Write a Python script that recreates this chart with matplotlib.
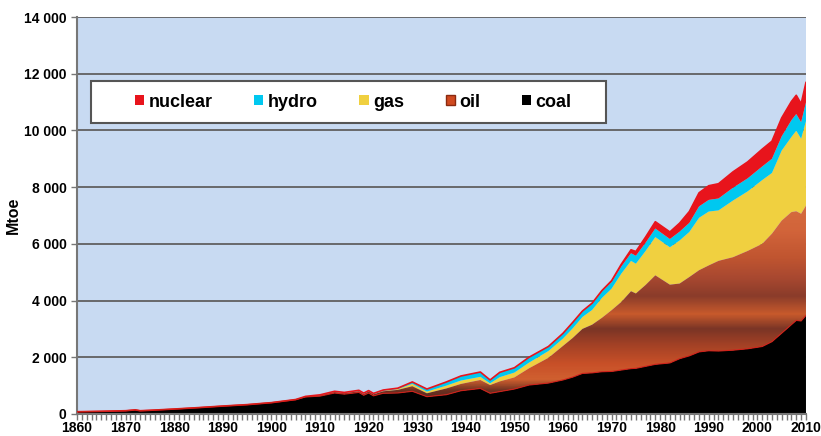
import numpy as np
import matplotlib.pyplot as plt
from matplotlib.colors import LinearSegmentedColormap
from matplotlib.patches import Rectangle, Patch

# world primary energy by source, Mtoe
years = [1860, 1865, 1870, 1872, 1873, 1875, 1880, 1885, 1890, 1895,
         1900, 1905, 1907, 1910, 1913, 1915, 1918, 1919, 1920, 1921,
         1923, 1926, 1929, 1932, 1936, 1939, 1943, 1945, 1947, 1950,
         1953, 1957, 1960, 1962, 1964, 1966, 1968, 1970, 1972, 1974,
         1975, 1977, 1979, 1982, 1984, 1986, 1988, 1990, 1992, 1995,
         1998, 2001, 2003, 2005, 2007, 2008, 2009, 2010]

coal = [80, 95, 115, 145, 115, 130, 175, 225, 280, 330,
        400, 505, 600, 630, 740, 700, 760, 660, 740, 640,
        730, 740, 800, 610, 680, 820, 900, 730, 790, 880,
        1020, 1090, 1200, 1300, 1430, 1450, 1490, 1500, 1550, 1600,
        1610, 1680, 1750, 1800, 1950, 2050, 2190, 2230, 2220, 2250,
        2300, 2380, 2550, 2850, 3150, 3300, 3280, 3480]

oil = [0, 0, 0, 0, 0, 0, 0, 0, 0, 0,
       0, 5, 10, 20, 30, 30, 40, 40, 50, 50,
       70, 110, 180, 120, 220, 240, 300, 290, 360, 410,
       590, 890, 1200, 1380, 1570, 1700, 1900, 2160, 2400, 2730,
       2640, 2870, 3140, 2760, 2650, 2780, 2880, 3010, 3180, 3280,
       3450, 3620, 3810, 3970, 3970, 3850, 3780, 3870]

gas = [0, 0, 0, 0, 0, 0, 0, 0, 0, 0,
       0, 0, 5, 10, 15, 15, 15, 15, 15, 15,
       20, 30, 80, 60, 100, 120, 110, 60, 150, 170,
       200, 240, 260, 340, 420, 520, 700, 760, 1000, 1070,
       1050, 1200, 1350, 1320, 1520, 1590, 1850, 1900, 1780, 2000,
       2100, 2250, 2140, 2470, 2650, 2840, 2650, 2980]

hydro = [0, 0, 0, 0, 0, 0, 0, 0, 0, 0,
         0, 0, 5, 15, 15, 15, 20, 20, 20, 20,
         25, 30, 70, 90, 130, 160, 170, 120, 170, 170,
         190, 160, 180, 200, 200, 220, 230, 230, 250, 270,
         280, 290, 300, 290, 310, 320, 400, 410, 420, 450,
         460, 480, 500, 500, 590, 590, 580, 660]

nuclear = [0, 0, 0, 0, 0, 0, 0, 0, 0, 0,
           0, 0, 0, 0, 0, 0, 0, 0, 0, 0,
           0, 0, 0, 0, 0, 0, 0, 0, 0, 0,
           0, 0, 5, 10, 10, 20, 30, 50, 80, 120,
           150, 200, 240, 250, 300, 400, 480, 500, 520, 560,
           580, 610, 620, 650, 660, 660, 650, 700]

labels = ['nuclear', 'hydro', 'gas', 'oil', 'coal']

c_nuclear = '#e8141c'
c_hydro = '#00c8f0'
c_gas = '#f0d040'
c_coal = '#000000'

plt.rcParams['font.family'] = ['Liberation Sans', 'DejaVu Sans']
plt.rcParams['font.weight'] = 'bold'

fig = plt.figure(figsize=(8.21, 4.36), dpi=100)
ax = fig.add_axes([0.0938, 0.0505, 0.8879, 0.9105])
ax.set_facecolor('#c8daf2')

polys = ax.stackplot(years, coal, oil, gas, hydro, nuclear,
                     colors=[c_coal, '#c85028', c_gas, c_hydro, c_nuclear],
                     linewidth=0, zorder=2)

# sunset-like gradient for oil, clipped to its band
oil_cmap = LinearSegmentedColormap.from_list('oil', [
    (0.0, '#3a2020'), (0.10, '#6a3020'), (0.15, '#d06030'),
    (0.22, '#c85028'), (0.31, '#a04025'), (0.375, '#7a3526'),
    (0.44, '#c85a2c'), (0.52, '#8a3c2a'), (0.60, '#a84830'),
    (0.69, '#c05530'), (0.81, '#d2643a'), (1.0, '#d87040')])
grad = np.linspace(0, 1, 400).reshape(-1, 1)
polys[1].set_facecolor('none')
im = ax.imshow(grad, extent=[1860, 2010, 0, 8000], origin='lower',
               aspect='auto', cmap=oil_cmap, zorder=2.1)
im.set_clip_path(polys[1].get_paths()[0], transform=ax.transData)

total = np.array(coal) + np.array(oil) + np.array(gas) + np.array(hydro) + np.array(nuclear)
ax.plot(years, total, color=c_nuclear, lw=1.2, zorder=3)
ax.plot(years, coal, color='#d02018', lw=0.8, zorder=3)

ax.set_xlim(1860, 2010)
ax.set_ylim(0, 14000)

ax.set_xticks(range(1860, 2011, 10))
ax.set_xticks(range(1860, 2011, 1), minor=True)
ax.set_yticks(range(0, 14001, 2000))
ax.set_yticklabels([f'{v:,}'.replace(',', ' ') for v in range(0, 14001, 2000)])
ax.tick_params(axis='both', which='both', labelsize=10, color='#777777',
               length=4, width=1)
ax.tick_params(axis='x', pad=1)

ax.grid(axis='y', color='#606060', lw=1.3)
ax.set_axisbelow(True)

for s in ['top', 'right']:
    ax.spines[s].set_visible(False)
for s in ['left', 'bottom']:
    ax.spines[s].set_color('#777777')
    ax.spines[s].set_linewidth(1.5)

ax.set_ylabel('Mtoe', fontsize=11.5, fontweight='bold', labelpad=2)

# legend box
ax.add_patch(Rectangle((0.0192, 0.732), 0.7065, 0.107, transform=ax.transAxes,
                       facecolor='white', edgecolor='#555555', lw=1.5, zorder=5))
handles = [Patch(facecolor=c_nuclear), Patch(facecolor=c_hydro),
           Patch(facecolor=c_gas), Patch(facecolor='#d04a20', edgecolor='#8a2a10'),
           Patch(facecolor=c_coal)]
leg = ax.legend(handles, labels, ncol=5, frameon=False, loc='center',
                bbox_to_anchor=(0.0192 + 0.0065 + 0.7065 / 2, 0.732 + 0.107 / 2),
                prop={'size': 13, 'weight': 'bold'},
                handlelength=0.5, handleheight=0.5, handletextpad=0.25,
                columnspacing=2.3, borderpad=0)
leg.set_zorder(6)

fig.savefig('out.png', dpi=100)
plt.close()
